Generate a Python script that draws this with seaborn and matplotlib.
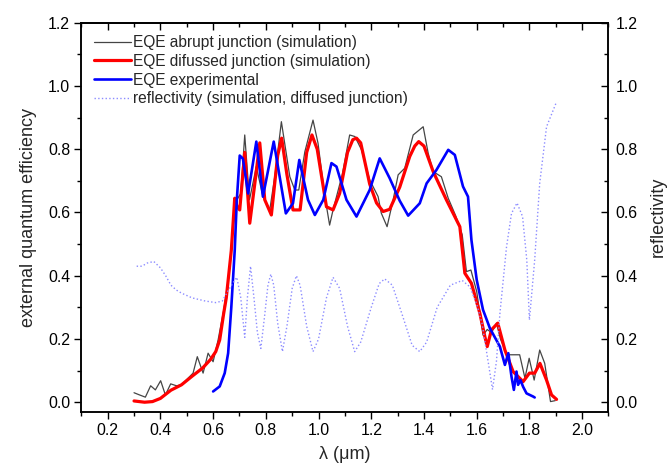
import numpy as np
import pandas as pd
import seaborn as sns
import matplotlib.pyplot as plt
from matplotlib.ticker import MultipleLocator, FormatStrFormatter

# EQE abrupt junction (simulation) - thin grey, jagged
abrupt_x = [0.30, 0.321, 0.343, 0.363, 0.381, 0.401, 0.419, 0.439, 0.461, 0.48,
            0.505, 0.524, 0.54, 0.562, 0.581, 0.60, 0.619, 0.64, 0.66, 0.675,
            0.69, 0.705, 0.72, 0.738, 0.764, 0.789, 0.815, 0.835, 0.859, 0.891,
            0.91, 0.925, 0.948, 0.979, 0.998, 1.024, 1.042, 1.055, 1.09, 1.118,
            1.138, 1.163, 1.194, 1.226, 1.238, 1.26, 1.283, 1.302, 1.327, 1.359,
            1.397, 1.416, 1.435, 1.466, 1.492, 1.52, 1.545, 1.561, 1.578, 1.60,
            1.624, 1.64, 1.656, 1.675, 1.69, 1.715, 1.738, 1.763, 1.783, 1.799,
            1.818, 1.839, 1.858, 1.88, 1.898]
abrupt_y = [0.03, 0.023, 0.016, 0.052, 0.039, 0.068, 0.023, 0.058, 0.052, 0.055,
            0.076, 0.092, 0.144, 0.092, 0.155, 0.128, 0.197, 0.29, 0.40, 0.55,
            0.64, 0.66, 0.845, 0.64, 0.745, 0.65, 0.608, 0.72, 0.887, 0.713,
            0.671, 0.671, 0.792, 0.892, 0.819, 0.65, 0.56, 0.608, 0.72, 0.845,
            0.84, 0.798, 0.703, 0.65, 0.598, 0.555, 0.64, 0.719, 0.74, 0.845,
            0.871, 0.787, 0.729, 0.713, 0.645, 0.59, 0.53, 0.413, 0.418, 0.35,
            0.212, 0.23, 0.22, 0.25, 0.20, 0.15, 0.15, 0.15, 0.076, 0.139,
            0.07, 0.165, 0.123, 0.002, 0.005]

# EQE diffused junction (simulation) - thick red
diffused_x = [0.30, 0.34, 0.37, 0.40, 0.44, 0.48, 0.52, 0.56, 0.59, 0.61,
              0.625, 0.64, 0.65, 0.669, 0.682, 0.691, 0.701, 0.72, 0.739, 0.758,
              0.777, 0.796, 0.821, 0.845, 0.86, 0.88, 0.903, 0.93, 0.955, 0.975,
              0.995, 1.03, 1.055, 1.08, 1.11, 1.13, 1.144, 1.16, 1.194, 1.22,
              1.245, 1.27, 1.308, 1.346, 1.365, 1.38, 1.40, 1.435, 1.485, 1.536,
              1.555, 1.58, 1.612, 1.631, 1.64, 1.656, 1.68, 1.707, 1.738, 1.776,
              1.80, 1.82, 1.84, 1.865, 1.884, 1.903]
diffused_y = [0.004, 0.0, 0.002, 0.012, 0.038, 0.055, 0.082, 0.108, 0.135, 0.16,
              0.197, 0.28, 0.33, 0.48, 0.645, 0.618, 0.608, 0.79, 0.566, 0.69,
              0.82, 0.64, 0.592, 0.78, 0.835, 0.72, 0.608, 0.608, 0.79, 0.845,
              0.80, 0.618, 0.608, 0.66, 0.79, 0.83, 0.835, 0.82, 0.69, 0.63,
              0.603, 0.61, 0.68, 0.777, 0.81, 0.824, 0.81, 0.729, 0.64, 0.555,
              0.408, 0.376, 0.281, 0.207, 0.176, 0.229, 0.25, 0.165, 0.097, 0.065,
              0.092, 0.092, 0.123, 0.07, 0.023, 0.009]

# EQE experimental - blue
exp_x = [0.60, 0.625, 0.644, 0.657, 0.669, 0.682, 0.69, 0.701, 0.713, 0.733,
         0.764, 0.789, 0.83, 0.846, 0.876, 0.903, 0.927, 0.96, 0.986, 1.018,
         1.049, 1.068, 1.106, 1.144, 1.194, 1.232, 1.27, 1.308, 1.34, 1.384,
         1.41, 1.447, 1.492, 1.517, 1.548, 1.567, 1.58, 1.60, 1.624, 1.65,
         1.688, 1.707, 1.72, 1.732, 1.741, 1.751, 1.757, 1.766, 1.776, 1.789,
         1.814, 1.82]
exp_y = [0.034, 0.05, 0.092, 0.155, 0.30, 0.48, 0.64, 0.78, 0.77, 0.66,
         0.824, 0.65, 0.824, 0.745, 0.597, 0.629, 0.766, 0.64, 0.592, 0.64,
         0.756, 0.745, 0.64, 0.587, 0.671, 0.771, 0.708, 0.637, 0.59, 0.629,
         0.692, 0.734, 0.798, 0.782, 0.682, 0.65, 0.513, 0.387, 0.292, 0.234,
         0.176, 0.118, 0.155, 0.081, 0.039, 0.097, 0.055, 0.07, 0.049, 0.028,
         0.018, 0.015]

# reflectivity (simulation, diffused junction) - dotted, right axis
refl_x = [0.31, 0.33, 0.35, 0.375, 0.40, 0.42, 0.44, 0.46, 0.48, 0.52,
          0.57, 0.61, 0.635, 0.655, 0.67, 0.69, 0.705, 0.72, 0.73, 0.742,
          0.755, 0.768, 0.781, 0.795, 0.808, 0.819, 0.83, 0.845, 0.863, 0.88,
          0.90, 0.916, 0.93, 0.955, 0.979, 1.00, 1.03, 1.055, 1.08, 1.11,
          1.137, 1.16, 1.20, 1.23, 1.251, 1.28, 1.32, 1.355, 1.384, 1.41,
          1.45, 1.50, 1.545, 1.574, 1.60, 1.62, 1.645, 1.66, 1.675, 1.688,
          1.713, 1.732, 1.753, 1.774, 1.79, 1.80, 1.82, 1.839, 1.865, 1.903]
refl_y = [0.43, 0.43, 0.44, 0.445, 0.425, 0.40, 0.37, 0.355, 0.345, 0.33,
          0.32, 0.315, 0.32, 0.35, 0.37, 0.395, 0.33, 0.205, 0.33, 0.43,
          0.33, 0.22, 0.17, 0.27, 0.37, 0.405, 0.37, 0.25, 0.16, 0.24,
          0.36, 0.40, 0.37, 0.24, 0.16, 0.20, 0.33, 0.395, 0.36, 0.24,
          0.16, 0.19, 0.30, 0.375, 0.39, 0.37, 0.27, 0.18, 0.16, 0.19,
          0.30, 0.37, 0.385, 0.365, 0.31, 0.25, 0.12, 0.04, 0.13, 0.28,
          0.49, 0.597, 0.63, 0.587, 0.45, 0.26, 0.45, 0.692, 0.871, 0.95]


def main():
    sns.set_theme(style='ticks')
    plt.rcParams['font.family'] = ['Liberation Sans', 'DejaVu Sans']

    fig, ax = plt.subplots(figsize=(6.72, 4.67), dpi=100)
    fig.subplots_adjust(left=0.121, right=0.9055, top=0.9514, bottom=0.1184)

    sns.lineplot(x=abrupt_x, y=abrupt_y, ax=ax, color='#454545', lw=0.9,
                 estimator=None, sort=False, label='EQE abrupt junction (simulation)')
    sns.lineplot(x=diffused_x, y=diffused_y, ax=ax, color='#ff0000', lw=2.3,
                 estimator=None, sort=False, label='EQE difussed junction (simulation)')
    sns.lineplot(x=exp_x, y=exp_y, ax=ax, color='#0000ff', lw=1.9,
                 estimator=None, sort=False, label='EQE experimental')
    sns.lineplot(x=refl_x, y=refl_y, ax=ax, color='#8c8cff', lw=1.0, linestyle=':',
                 estimator=None, sort=False,
                 label='reflectivity (simulation, diffused junction)')

    ax.set_xlim(0.1, 2.1)
    ax.set_ylim(-0.03, 1.2)
    ax.xaxis.set_major_locator(MultipleLocator(0.2))
    ax.xaxis.set_minor_locator(MultipleLocator(0.1))
    ax.yaxis.set_major_locator(MultipleLocator(0.2))
    ax.yaxis.set_minor_locator(MultipleLocator(0.1))
    ax.xaxis.set_major_formatter(FormatStrFormatter('%.1f'))
    ax.yaxis.set_major_formatter(FormatStrFormatter('%.1f'))
    ax.tick_params(which='both', direction='out', colors='black', labelsize=11.4,
                   width=1.0, top=False, right=False)
    ax.tick_params(which='major', length=5, pad=3)
    ax.tick_params(which='minor', length=3)

    for s in ax.spines.values():
        s.set_color('black')
        s.set_linewidth(1.1)

    # right axis, same scale, inward ticks
    ax2 = ax.twinx()
    ax2.set_ylim(ax.get_ylim())
    ax2.yaxis.set_major_locator(MultipleLocator(0.2))
    ax2.yaxis.set_minor_locator(MultipleLocator(0.1))
    ax2.yaxis.set_major_formatter(FormatStrFormatter('%.1f'))
    ax2.tick_params(which='both', direction='in', colors='black', labelsize=11.4, width=1.0)
    ax2.tick_params(which='major', length=5, pad=5)
    ax2.tick_params(which='minor', length=3)
    for s in ax2.spines.values():
        s.set_color('black')
        s.set_linewidth(1.1)
    ax2.set_ylabel('reflectivity', fontsize=13, labelpad=9)

    # top axis, inward ticks, no labels
    top = ax.secondary_xaxis('top')
    top.xaxis.set_major_locator(MultipleLocator(0.2))
    top.xaxis.set_minor_locator(MultipleLocator(0.1))
    top.tick_params(which='both', direction='in', colors='black', labeltop=False, width=1.0)
    top.tick_params(which='major', length=5)
    top.tick_params(which='minor', length=3)
    top.spines['top'].set_color('black')
    top.spines['top'].set_linewidth(1.1)

    ax.set_xlabel('λ (μm)', fontsize=13, labelpad=6)
    ax.set_ylabel('external quantum efficiency', fontsize=13, labelpad=8)

    ax.legend(loc='upper left', bbox_to_anchor=(0.0, 1.0), frameon=False,
              fontsize=11.2, handlelength=2.4, handletextpad=0.15,
              labelspacing=0.24, borderaxespad=0.5, borderpad=0.3)

    fig.savefig('out.png', dpi=100)


if __name__ == "__main__":
    main()
